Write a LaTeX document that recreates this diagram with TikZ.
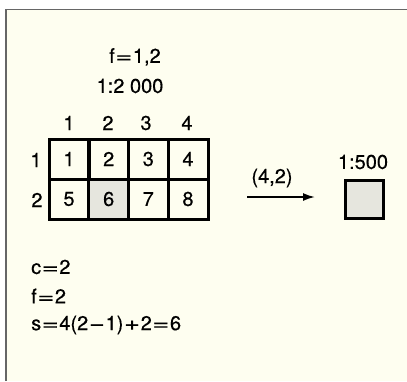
\documentclass[tikz,border=0pt]{standalone}
\usepackage{fontspec}
\usepackage{graphicx}
\setmainfont[FakeBold=0.5]{TeX Gyre Heros}
\usetikzlibrary{arrows.meta}
\definecolor{cream}{HTML}{FEFEF0}
\definecolor{shade}{HTML}{E6E6DE}
\newcommand{\eqs}{\kern0.6pt\scalebox{1.45}[1]{=}\kern0.6pt}
\newcommand{\ops}[1]{\kern0.8pt\scalebox{1.35}[1]{#1}\kern0.8pt}
\begin{document}
\begin{tikzpicture}[x=1pt,y=-1pt,
  txt/.style={inner sep=0pt,font=\fontsize{20}{24}\selectfont},
  cell/.style={draw=black,line width=3pt,minimum width=40pt,minimum height=40pt,inner sep=0pt,font=\fontsize{20}{24}\selectfont},
  conn/.style={line width=1.8pt,-{Latex[length=12pt,width=8pt]}}]
\useasboundingbox (0,0) rectangle (407,381);
\fill[white] (0,0) rectangle (407,381);
\fill[cream] (6,9.5) rectangle (407,381);
\draw[gray!80!black,line width=1.6pt] (6,381) -- (6,9.5) -- (407,9.5);
\node[txt] (f12) at (135,57) {f\eqs1,2};
\node[txt] (scale) at (130,86) {1:2 000};
\foreach \i/\x in {1/69,2/108,3/146,4/187}
  \node[txt] (col\i) at (\x,123) {\i};
\node[txt] (row1) at (36,160) {1};
\node[txt] (row2) at (37,200) {2};
\node[cell] (c1) at (69,159) {1};
\node[cell] (c2) at (108.7,159) {2};
\node[cell] (c3) at (148.3,159) {3};
\node[cell] (c4) at (188,159) {4};
\node[cell] (c5) at (69,199) {5};
\node[cell,fill=shade] (c6) at (108.7,199) {6};
\node[cell] (c7) at (148.3,199) {7};
\node[cell] (c8) at (188,199) {8};
\draw[line width=3pt] (49,139) rectangle (208,219);
\node[txt] (lab) at (272,178) {(4,2)};
\coordinate (as) at (247,197);
\node[draw=black,fill=shade,line width=3pt,minimum width=38pt,minimum height=38pt,inner sep=0pt] (sq) at (364.5,199) {};
\node[txt] (s500) at (363,162) {1:500};
\draw[conn] (as) -- (315,197);
\node[txt,anchor=west] (cc) at (31,267) {c\eqs2};
\node[txt,anchor=west] (ff) at (31,296) {f\eqs2};
\node[txt,anchor=west] (ss) at (31,325) {s\eqs4(2\ops{−}1)\ops{+}2\eqs6};
\end{tikzpicture}
\end{document}
